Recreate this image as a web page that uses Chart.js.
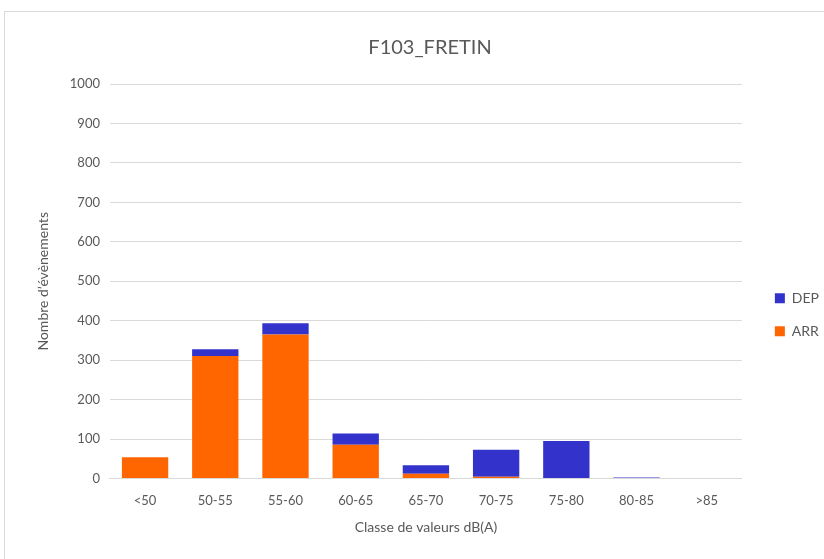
<!DOCTYPE html>
<html>
<head>
<meta charset="utf-8">
<script src="https://cdn.jsdelivr.net/npm/chart.js@4.4.1/dist/chart.umd.min.js"></script>
<style>
  html, body { margin: 0; padding: 0; background: #fff; }
  #box { position: absolute; left: 4px; top: 11px; width: 820px; height: 548px; border: 1px solid #d9d9d9; border-right: none; border-bottom: none; box-sizing: border-box; }
  #wrap { position: absolute; left: 0; top: 0; width: 819px; height: 547px; }
</style>
</head>
<body>
<div id="box"><div id="wrap"><canvas id="chart"></canvas></div></div>
<script>
// categories (classes de bruit) and values
const classes = ['<50', '50-55', '55-60', '60-65', '65-70', '70-75', '75-80', '80-85', '>85'];
const arrValues = [54, 311, 365, 86, 12, 5, 0, 0, 0];
const depValues = [0, 17, 29, 28, 22, 68, 95, 3, 0];
const yTicks = [0, 100, 200, 300, 400, 500, 600, 700, 800, 900, 1000];

const FONT = "Lato, 'Open Sans', sans-serif";
const GREY = '#595959';

Chart.defaults.font.family = FONT;
Chart.defaults.color = GREY;

new Chart(document.getElementById('chart'), {
  type: 'bar',
  data: {
    labels: classes,
    datasets: [
      { label: 'ARR', data: arrValues, backgroundColor: '#ff6600', barPercentage: 0.66, categoryPercentage: 1 },
      { label: 'DEP', data: depValues, backgroundColor: '#3333cc', barPercentage: 0.66, categoryPercentage: 1 }
    ]
  },
  options: {
    responsive: true,
    maintainAspectRatio: false,
    animation: false,
    layout: { padding: { left: 26, right: -5, top: 16, bottom: 19 } },
    plugins: {
      title: { display: true, text: 'F103_FRETIN', font: { size: 20, weight: 'normal' }, color: GREY, padding: { top: 8, bottom: 24 } },
      legend: {
        position: 'right',
        reverse: true,
        title: { display: true, text: ' ', padding: { top: 0, bottom: 47 } },
        labels: { boxWidth: 10, boxHeight: 10, font: { size: 14 }, color: GREY, padding: 19 }
      },
      tooltip: { enabled: false }
    },
    scales: {
      x: {
        stacked: true,
        grid: { display: false },
        border: { color: '#d9d9d9' },
        ticks: { font: { size: 13 }, color: GREY, padding: 6 },
        title: { display: true, text: 'Classe de valeurs dB(A)', font: { size: 14 }, color: GREY, padding: { top: 5 } }
      },
      y: {
        stacked: true,
        min: 0,
        max: 1000,
        afterBuildTicks: axis => { axis.ticks = yTicks.map(v => ({ value: v })); },
        grid: { color: '#d9d9d9', drawTicks: false },
        border: { display: false },
        ticks: { font: { size: 13 }, color: GREY, padding: 10, callback: v => String(v) },
        title: { display: true, text: 'Nombre d\u2019évènements', font: { size: 14 }, color: GREY, padding: { bottom: 8 } }
      },
      // empty spacer between the plot and the legend
      gap: {
        position: 'right',
        grid: { display: false },
        border: { display: false },
        ticks: { display: false },
        afterFit: s => { s.width = 14; }
      }
    }
  }
});
</script>
</body>
</html>
